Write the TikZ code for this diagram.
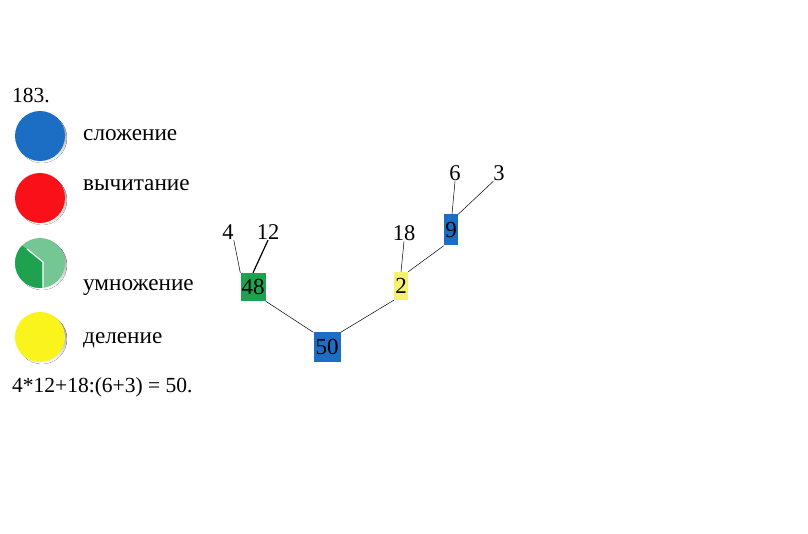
\documentclass[tikz,border=0pt]{standalone}
\usepackage{fontspec}
\setmainfont{Liberation Serif}
\usetikzlibrary{positioning}

\definecolor{addblue}{HTML}{1C6DC4}
\definecolor{subred}{HTML}{FA1018}
\definecolor{muldark}{HTML}{1FA24F}
\definecolor{mullight}{HTML}{74C793}
\definecolor{divyellow}{HTML}{FBF41C}
\definecolor{boxyellow}{HTML}{F6F16A}
\definecolor{shade}{HTML}{9A9A9A}

\tikzset{
  coin/.style={circle, minimum size=50pt, inner sep=0pt},
  txt/.style={inner sep=0pt, anchor=base west, font=\fontsize{21.5}{21.5}\selectfont},
  opname/.style={txt, font=\fontsize{23.2}{23.2}\selectfont},
  num/.style={inner sep=0pt, anchor=base, font=\fontsize{22.5}{22.5}\selectfont},
  valbox/.style={inner sep=0pt, font=\fontsize{23}{23}\selectfont},
  link/.style={draw=black, line width=0.5pt}
}

\begin{document}
\begin{tikzpicture}[x=1pt,y=-1pt]
\useasboundingbox (0,0) rectangle (808,534);
% legend
\node[txt] (title) at (12,103) {183.};
\fill[shade] (42,138) circle (25);
\node[coin, fill=addblue] (cblue) at (40,136) {};
\fill[shade] (42,200) circle (25);
\node[coin, fill=subred] (cred) at (40,198) {};
\fill[shade] (42,265) circle (25);
\node[coin, fill=mullight] (cgreen) at (40,263) {};
\begin{scope}
  \clip (40,263) circle (25);
  \fill[muldark] (10,238) -- (27,249) -- (43,262) -- (43,295) -- (10,295) -- cycle;
  \draw[white, line width=1.2pt] (27,249) -- (43,262) -- (43,292);
\end{scope}
\fill[shade] (42,339) circle (25);
\node[coin, fill=divyellow] (cyellow) at (40,337) {};
\node[opname] (ladd) at (83,141) {сложение};
\node[opname] (lsub) at (83,191) {вычитание};
\node[opname] (lmul) at (83,291) {умножение};
\node[opname] (ldiv) at (83,343) {деление};
\node[txt] (expr) at (12,392) {4*12+18:(6+3) = 50.};
% tree nodes
\node[valbox, fill=addblue, minimum width=27pt, minimum height=29pt] (v50) at (327,347) {50};
\node[valbox, fill=muldark, minimum width=25pt, minimum height=28pt] (v48) at (253,287) {48};
\node[valbox, fill=boxyellow, minimum width=14pt, minimum height=28pt] (v2) at (401,286) {2};
\node[valbox, fill=addblue, minimum width=14pt, minimum height=31pt] (v9) at (451,230) {9};
\node[num] (n4) at (228,240) {4};
\node[num] (n12) at (268,240) {12};
\node[num] (n18) at (404,241) {18};
\node[num] (n6) at (455,181) {6};
\node[num] (n3) at (499,181) {3};
% edges
\draw[link] (v50.north west) -- (v48.south east);
\draw[link] (v50.north east) -- (v2.south west);
\draw[link] (v2.north east) -- (v9.south west);
\draw[link] (n4.south east) -- (v48.north west);
\draw[link, line width=1.2pt] (n12.south) -- (v48.north);
\draw[link] (n18.south) -- (v2.north);
\draw[link] (n6.south) -- ([xshift=1pt]v9.north);
\draw[link] (n3.south west) -- (v9.north east);
\end{tikzpicture}
\end{document}
